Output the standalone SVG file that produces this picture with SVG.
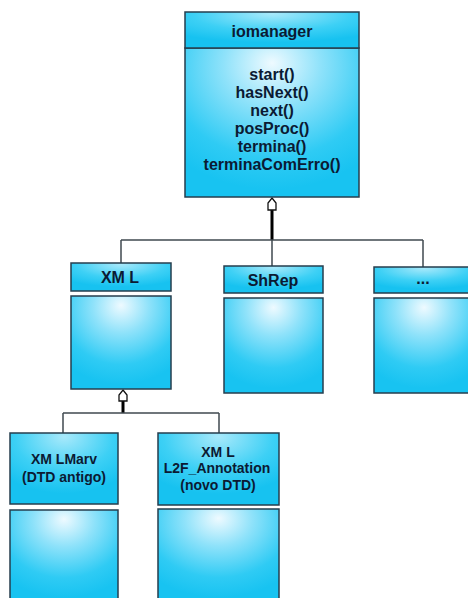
<svg xmlns="http://www.w3.org/2000/svg" width="468" height="598" viewBox="0 0 468 598">
  <style>
    .box { stroke: #263e4e; stroke-width: 1.5; }
    .hdr { fill: url(#hdrFill); }
    .body { fill: url(#bodyFill); }
    .lbl { font-family: "Liberation Sans", Arial, sans-serif; font-weight: bold; fill: #0b1a33; text-anchor: middle; }
    .big { font-size: 16px; }
    .small { font-size: 14px; }
    .wire { stroke: #404a50; stroke-width: 1.5; fill: none; }
    .stem { stroke: #000; stroke-width: 3; fill: none; }
    .tip { fill: #fff; stroke: #111; stroke-width: 1.3; }
  </style>
  <defs>
    <radialGradient id="hdrFill" cx="0.5" cy="0.1" r="0.75" fx="0.5" fy="0.05">
      <stop offset="0" stop-color="#a8e9fb"/>
      <stop offset="0.6" stop-color="#3dd0f5"/>
      <stop offset="1" stop-color="#17c2f0"/>
    </radialGradient>
    <radialGradient id="bodyFill" cx="0.5" cy="0.15" r="0.8" fx="0.5" fy="0.1">
      <stop offset="0" stop-color="#eefaff"/>
      <stop offset="0.35" stop-color="#8fe2fa"/>
      <stop offset="0.75" stop-color="#2fcbf4"/>
      <stop offset="1" stop-color="#18c3f1"/>
    </radialGradient>
  </defs>

  <rect width="468" height="598" fill="#fff"/>

  <!-- connectors -->
  <g id="connectors">
    <!-- iomanager generalization -->
    <line class="stem" x1="272" y1="210" x2="272" y2="240"/>
    <path class="wire" d="M121 240 H423 M121 240 V263 M272 240 V266 M423 240 V267"/>
    <path class="tip" d="M272 198 L276 203 L276 210 L268 210 L268 203 Z"/>
    <!-- XML generalization -->
    <line class="stem" x1="123" y1="401" x2="123" y2="413"/>
    <path class="wire" d="M63 413 H219 M63 413 V433 M219 413 V433"/>
    <path class="tip" d="M123 390 L127 395 L127 401 L119 401 L119 395 Z"/>
  </g>

  <!-- iomanager -->
  <g id="iomanager">
    <rect class="box body" x="185" y="48" width="174" height="149"/>
    <rect class="box hdr" x="185" y="12" width="174" height="36"/>
    <text class="lbl big" x="272" y="37">iomanager</text>
    <text class="lbl big" x="272" y="80">start()</text>
    <text class="lbl big" x="272" y="98">hasNext()</text>
    <text class="lbl big" x="272" y="116">next()</text>
    <text class="lbl big" x="272" y="134">posProc()</text>
    <text class="lbl big" x="272" y="152">termina()</text>
    <text class="lbl big" x="272" y="170">terminaComErro()</text>
  </g>

  <!-- XML -->
  <g id="xml">
    <rect class="box hdr" x="71" y="263" width="100" height="28"/>
    <rect class="box body" x="71" y="296" width="100" height="93"/>
    <text class="lbl big" x="120" y="283">XM L</text>
  </g>

  <!-- ShRep -->
  <g id="shrep">
    <rect class="box hdr" x="224" y="266" width="99" height="27"/>
    <rect class="box body" x="224" y="298" width="99" height="95"/>
    <text class="lbl big" x="273" y="285.5">ShRep</text>
  </g>

  <!-- others -->
  <g id="others">
    <rect class="box hdr" x="374" y="267" width="100" height="26"/>
    <rect class="box body" x="374" y="298" width="100" height="95"/>
    <text class="lbl big" x="423" y="284">...</text>
  </g>

  <!-- XMLMarv -->
  <g id="xmlmarv">
    <rect class="box hdr" x="10" y="433" width="108" height="71"/>
    <rect class="box body" x="10" y="510" width="108" height="92"/>
    <text class="lbl small" x="64" y="464">XM LMarv</text>
    <text class="lbl small" x="64" y="482">(DTD antigo)</text>
  </g>

  <!-- XML L2F_Annotation -->
  <g id="xml-l2f">
    <rect class="box hdr" x="158" y="433" width="121" height="72"/>
    <rect class="box body" x="158" y="509" width="121" height="93"/>
    <text class="lbl small" x="218" y="457">XM L</text>
    <text class="lbl small" x="217" y="473">L2F_Annotation</text>
    <text class="lbl small" x="218" y="490">(novo DTD)</text>
  </g>
</svg>
